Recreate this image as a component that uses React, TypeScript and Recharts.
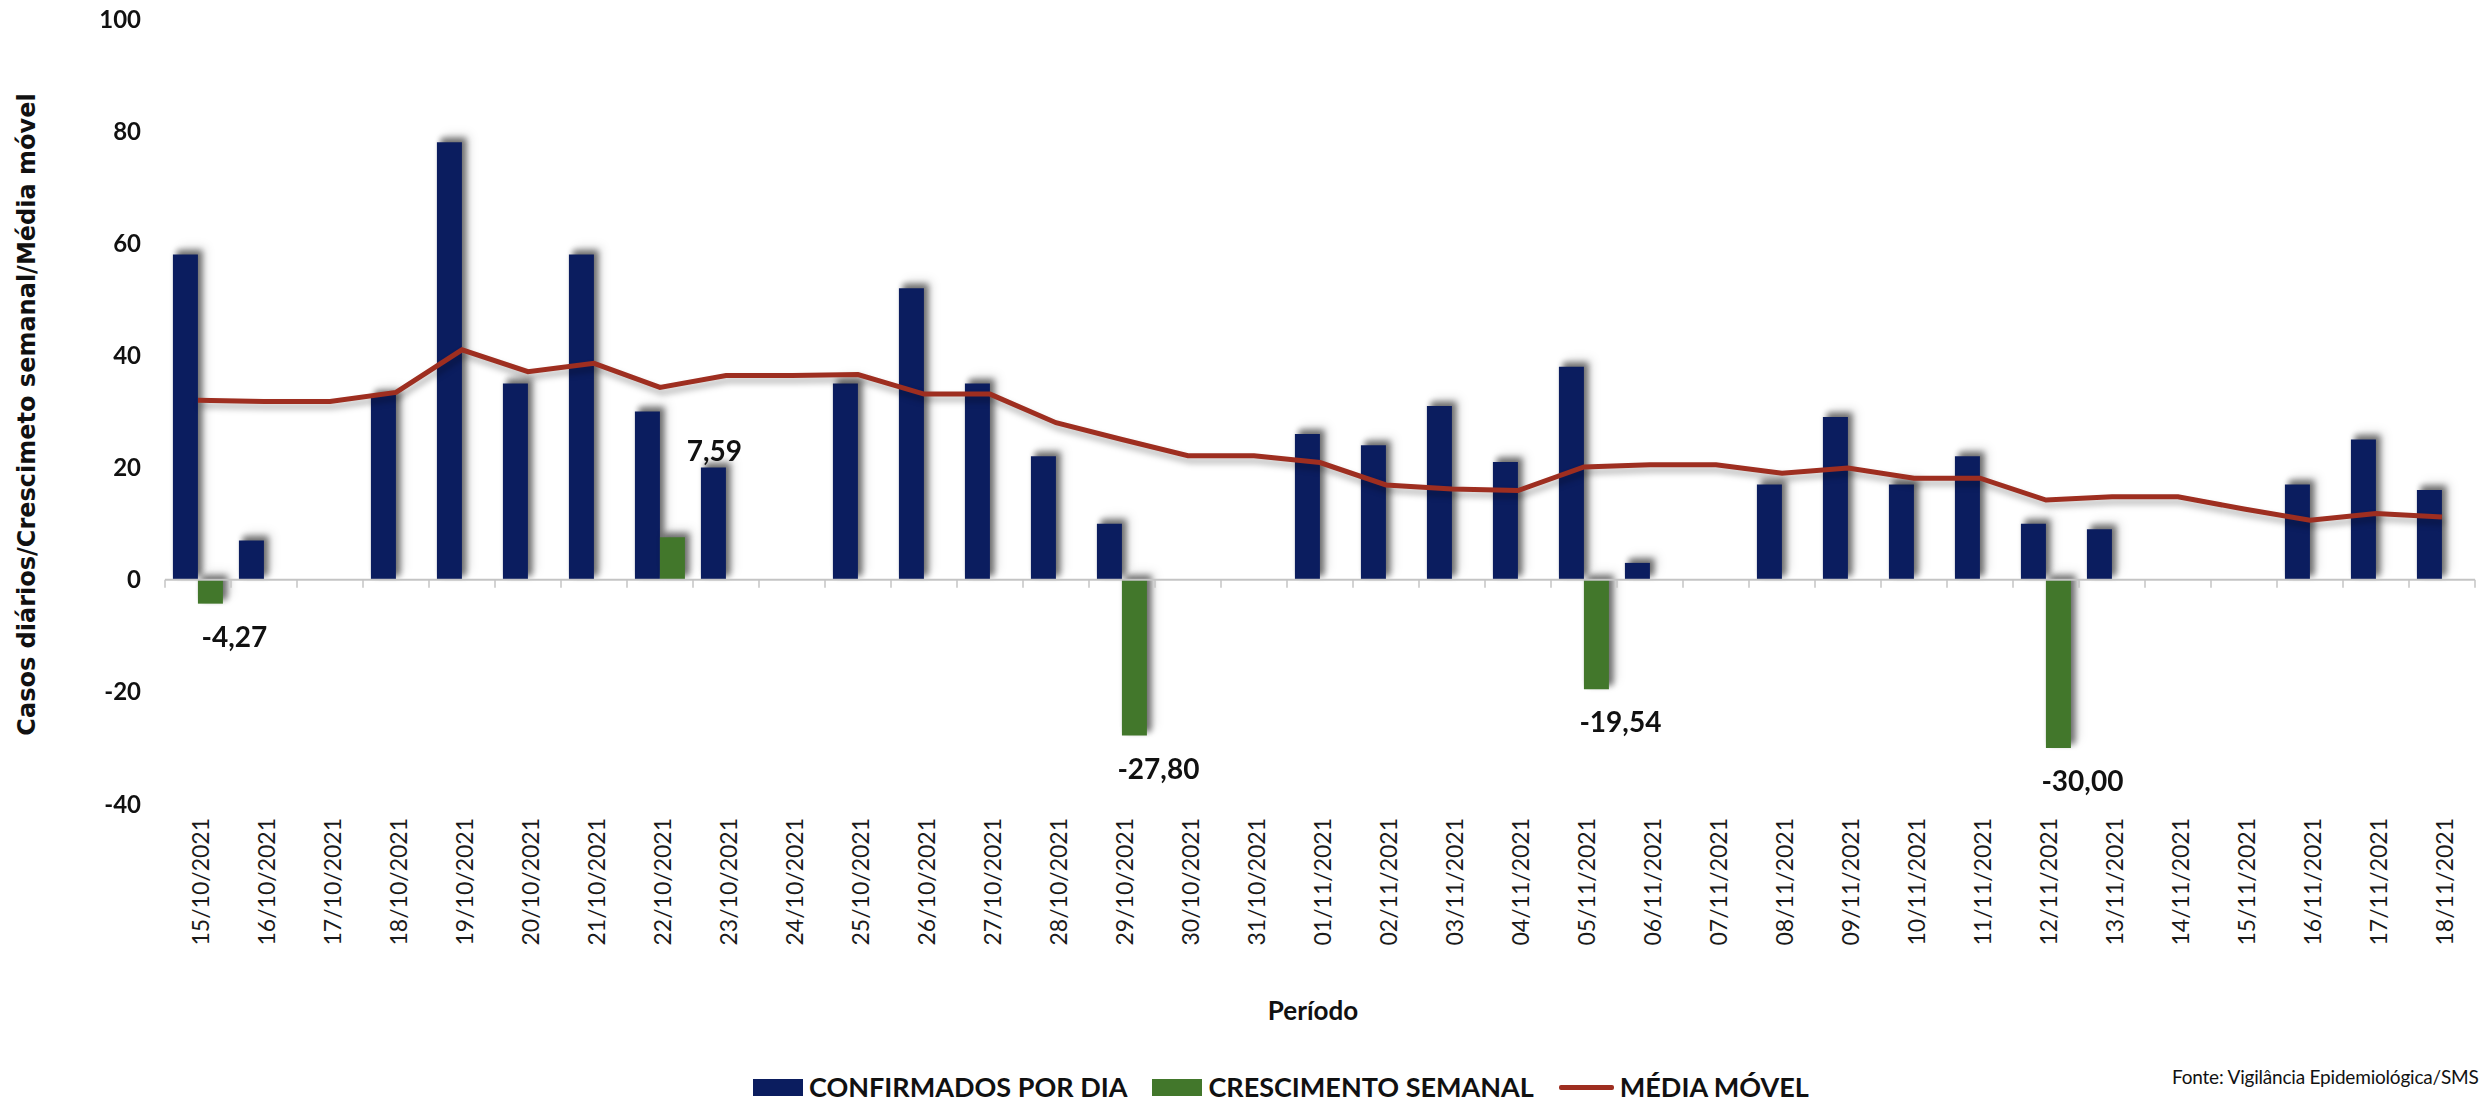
import React from 'react';
import { ComposedChart, Bar, Line, XAxis, YAxis, ReferenceLine, LabelList } from 'recharts';

const categories = [
  '15/10/2021', '16/10/2021', '17/10/2021', '18/10/2021', '19/10/2021', '20/10/2021', '21/10/2021',
  '22/10/2021', '23/10/2021', '24/10/2021', '25/10/2021', '26/10/2021', '27/10/2021', '28/10/2021',
  '29/10/2021', '30/10/2021', '31/10/2021', '01/11/2021', '02/11/2021', '03/11/2021', '04/11/2021',
  '05/11/2021', '06/11/2021', '07/11/2021', '08/11/2021', '09/11/2021', '10/11/2021', '11/11/2021',
  '12/11/2021', '13/11/2021', '14/11/2021', '15/11/2021', '16/11/2021', '17/11/2021', '18/11/2021',
];

const confirmadosPorDia = [
  58, 7, 0, 33, 78, 35, 58,
  30, 20, 0, 35, 52, 35, 22,
  10, 0, 0, 26, 24, 31, 21,
  38, 3, 0, 17, 29, 17, 22,
  10, 9, 0, 0, 17, 25, 16,
];

const crescimentoSemanal: (number | null)[] = [
  -4.27, null, null, null, null, null, null,
  7.59, null, null, null, null, null, null,
  -27.8, null, null, null, null, null, null,
  -19.54, null, null, null, null, null, null,
  -30.0, null, null, null, null, null, null,
];

const mediaMovel = [
  32.0, 31.8, 31.8, 33.4, 41.0, 37.1, 38.6,
  34.3, 36.4, 36.4, 36.6, 33.1, 33.1, 28.0,
  25.0, 22.1, 22.1, 20.9, 16.9, 16.2, 15.9,
  20.1, 20.5, 20.5, 19.0, 19.9, 18.1, 18.1,
  14.2, 14.8, 14.8, 12.6, 10.6, 11.8, 11.2,
];

const yTicks = [-40, -20, 0, 20, 40, 60, 80, 100];

const data = categories.map((date, i) => ({
  date,
  confirmados: confirmadosPorDia[i],
  crescimento: crescimentoSemanal[i],
  media: mediaMovel[i],
}));

const W = 2486;
const H = 1102;
const PLOT_TOP = 19;
const PLOT_BOTTOM = 804;
const PLOT_LEFT = 165;
const PLOT_RIGHT = 2475;
const Y_MIN = -40;
const Y_MAX = 100;

const NAVY = '#0B1D5F';
const GREEN = '#42772B';
const RED = '#9E2E20';
const AXIS_GRAY = '#C4C4C4';
const FONT = 'Lato, "Open Sans", sans-serif';

const DateTick = (props: any) => {
  const { x, y, payload, index } = props;
  const band = (PLOT_RIGHT - PLOT_LEFT) / categories.length;
  const zeroY = PLOT_TOP + ((Y_MAX - 0) / (Y_MAX - Y_MIN)) * (PLOT_BOTTOM - PLOT_TOP);
  return (
    <g>
      <line x1={x - band / 2} x2={x - band / 2} y1={zeroY} y2={zeroY + 8} stroke={AXIS_GRAY} strokeWidth={1.5} />
      {index === categories.length - 1 && (
        <line x1={x + band / 2} x2={x + band / 2} y1={zeroY} y2={zeroY + 8} stroke={AXIS_GRAY} strokeWidth={1.5} />
      )}
      <text
        x={x + 3}
        y={y}
        transform={`rotate(-90 ${x + 3} ${y})`}
        textAnchor="end"
        dy="0.35em"
        fontFamily={FONT}
        fontSize={23}
        fill="#1a1a1a"
      >
        {payload.value}
      </text>
    </g>
  );
};

const GrowthLabel = (props: any) => {
  const { x, y, width, height, value } = props;
  if (value === null || value === undefined) return null;
  const cx = x + width / 2;
  const neg = value < 0;
  const end = neg ? Math.max(y, y + height) : Math.min(y, y + height);
  const dx = neg ? 24 : 42;
  const dy = neg ? 32 : -87;
  return (
    <text
      x={cx + dx}
      y={end + dy}
      textAnchor="middle"
      dominantBaseline="central"
      fontFamily={FONT}
      fontWeight={700}
      fontSize={28}
      fill="#111"
    >
      {value.toFixed(2).replace('.', ',')}
    </text>
  );
};

const YTitle = (props: any) => {
  const { viewBox } = props;
  const cx = viewBox.x + 27;
  const cy = viewBox.y + viewBox.height / 2 + 3;
  return (
    <text
      x={cx}
      y={cy}
      transform={`rotate(-90 ${cx} ${cy})`}
      textAnchor="middle"
      dominantBaseline="central"
      fontFamily='"DejaVu Sans", Verdana, sans-serif'
      fontWeight={700}
      fontSize={24}
      fill="#111"
    >
      Casos diários/Crescimeto semanal/Média móvel
    </text>
  );
};

const XTitle = (props: any) => {
  const { viewBox } = props;
  return (
    <text
      x={viewBox.x + viewBox.width / 2 - 7}
      y={viewBox.y + 206}
      textAnchor="middle"
      dominantBaseline="central"
      fontFamily={FONT}
      fontWeight={700}
      fontSize={26}
      fill="#111"
    >
      Período
    </text>
  );
};

const legendItems = [
  { label: 'CONFIRMADOS POR DIA', color: NAVY, kind: 'rect' },
  { label: 'CRESCIMENTO SEMANAL', color: GREEN, kind: 'rect' },
  { label: 'MÉDIA MÓVEL', color: RED, kind: 'line' },
];

export default function App() {
  return (
    <div style={{ position: 'absolute', left: 0, top: 0, width: W, height: H, overflow: 'hidden', background: '#fff' }}>
      <style>{`
        .bar-shadow { filter: drop-shadow(4px -4px 3px rgba(0,0,0,0.35)); }
        .line-shadow { filter: drop-shadow(2px 5px 3px rgba(0,0,0,0.3)); }
      `}</style>
      <ComposedChart
        width={W}
        height={H}
        data={data}
        margin={{ top: PLOT_TOP, right: W - PLOT_RIGHT, bottom: 0, left: 0 }}
        barCategoryGap="12%"
        barGap={0}
      >
        <ReferenceLine y={0} stroke={AXIS_GRAY} strokeWidth={2} />
        <XAxis
          dataKey="date"
          interval={0}
          axisLine={false}
          tickLine={false}
          tickSize={0}
          tickMargin={14}
          height={H - PLOT_BOTTOM}
          tick={<DateTick />}
          label={<XTitle />}
        />
        <YAxis
          domain={[Y_MIN, Y_MAX]}
          ticks={yTicks}
          allowDataOverflow
          width={PLOT_LEFT}
          axisLine={false}
          tickLine={false}
          tickSize={0}
          tickMargin={24}
          tick={{ fontFamily: FONT, fontWeight: 700, fontSize: 24, fill: '#111' }}
          label={<YTitle />}
        />
        <Bar dataKey="confirmados" fill={NAVY} className="bar-shadow" isAnimationActive={false} />
        <Bar dataKey="crescimento" fill={GREEN} className="bar-shadow" isAnimationActive={false}>
          <LabelList dataKey="crescimento" content={<GrowthLabel />} />
        </Bar>
        <Line
          dataKey="media"
          type="linear"
          stroke={RED}
          strokeWidth={5}
          dot={false}
          activeDot={false}
          className="line-shadow"
          isAnimationActive={false}
        />
      </ComposedChart>
      <div
        style={{
          position: 'absolute',
          left: 753,
          top: 1075,
          display: 'flex',
          alignItems: 'center',
          gap: 25,
          fontFamily: FONT,
          fontWeight: 700,
          fontSize: 27,
          lineHeight: '24px',
          color: '#111',
          whiteSpace: 'nowrap',
        }}
      >
        {legendItems.map((it) => (
          <div key={it.label} style={{ display: 'flex', alignItems: 'center', gap: 6 }}>
            {it.kind === 'rect' ? (
              <div style={{ width: 50, height: 17, background: it.color }} />
            ) : (
              <div style={{ width: 55, height: 5, background: it.color, borderRadius: 2 }} />
            )}
            <span>{it.label}</span>
          </div>
        ))}
      </div>
      <div
        style={{
          position: 'absolute',
          left: 2172,
          top: 1066,
          fontFamily: FONT,
          fontSize: 19,
          letterSpacing: -0.2,
          lineHeight: '22px',
          color: '#111',
          whiteSpace: 'nowrap',
        }}
      >
        Fonte: Vigilância Epidemiológica/SMS
      </div>
    </div>
  );
}
